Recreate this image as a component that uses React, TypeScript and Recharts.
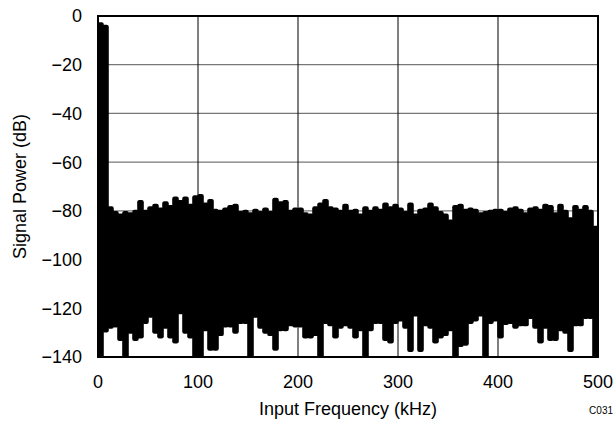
import { BarChart, Bar, XAxis, YAxis, CartesianGrid, ReferenceArea, Label } from 'recharts';

// FFT output, read per 5 kHz bin: peak (top of trace) and floor (bottom of trace) in dB
const BIN_KHZ = 5;

const peakDb = [
  -3, -4, -78.5, -80.5, -81.5, -80.5, -81, -80, -76, -80,
  -78.5, -77.5, -79, -76.5, -78, -74.5, -76, -74.5, -77.5, -74,
  -73.5, -77, -75.5, -79.5, -80, -79, -78, -77.5, -80.5, -80,
  -81, -79.5, -80.5, -79, -80.5, -75, -76.5, -76, -80, -79,
  -79, -81, -81.5, -78.5, -77, -75.5, -78.5, -79, -80, -77.5,
  -80, -79.5, -81.5, -78.5, -80, -78.5, -79.5, -77, -78.5, -77.5,
  -79, -80.5, -77, -81.5, -79.5, -79, -77, -78.5, -80.5, -81.5,
  -84, -78, -77.5, -79.5, -79, -79.5, -81, -80.5, -80, -79.5,
  -79.5, -80.5, -79, -78.5, -79.5, -81, -79, -78.5, -79.5, -77.5,
  -78, -81, -77.5, -80, -83, -78, -79.5, -78, -80, -86.5,
];

const floorDb = [
  -140, -129.5, -128, -127.5, -133, -140, -130, -133, -132, -126,
  -123.5, -130, -132, -128, -132, -134, -122, -130, -132, -140,
  -140, -129, -137, -137, -131, -127.5, -127.5, -130, -126, -126,
  -140, -123.5, -128, -130, -131, -137, -129, -129, -127, -127.5,
  -127.5, -132, -132, -131, -140, -126, -127, -132, -128, -127,
  -128, -132, -129, -140, -129, -126, -126, -133, -134, -126,
  -125, -128, -137.5, -123, -137.5, -127, -128, -134, -132, -131,
  -129, -140, -135.5, -135, -126, -125, -123, -140, -126, -125,
  -132, -126.5, -126, -128, -127, -127, -124, -128, -134, -128,
  -133, -133, -129, -130, -137.5, -127, -127, -124, -124, -140,
];

const freqTicks = [0, 100, 200, 300, 400, 500];
const powerTicks = [-140, -120, -100, -80, -60, -40, -20, 0];

const data = peakDb.map((top, i) => ({
  freq: (i + 0.5) * BIN_KHZ,
  range: [floorDb[i], top],
}));

const FONT = '"Liberation Sans", Arial, Helvetica, sans-serif';

const formatDb = (v: number) => (v < 0 ? `\u2212${-v}` : `${v}`);

// thick trace look: widen each bin slightly so neighbours merge, round the ends
const TraceBin = (props: any) => {
  const { x, y, width, height } = props;
  if (height == null || isNaN(height)) return null;
  return <rect x={x - 0.8} y={y - 1} width={width + 1.6} height={height + 2} rx={2.2} ry={2.2} fill="#000" />;
};

export default function App() {
  return (
    <div style={{ position: 'absolute', left: 0, top: 0, width: 615, height: 422, background: '#fff', fontFamily: FONT }}>
      <BarChart
        width={615}
        height={422}
        data={data}
        barCategoryGap={0}
        barGap={0}
        margin={{ top: 16, right: 17, bottom: 35, left: 0 }}
      >
        <CartesianGrid horizontal={true} vertical={false} stroke="#777" strokeWidth={1.2} />
        <CartesianGrid horizontal={false} vertical={true} stroke="#000" strokeWidth={1} />
        <XAxis
          type="number"
          dataKey="freq"
          domain={[0, 500]}
          ticks={freqTicks}
          allowDataOverflow
          height={30}
          axisLine={false}
          tickLine={false}
          tickSize={0}
          tickMargin={18}
          tick={{ fill: '#000', fontSize: 18, fontFamily: FONT }}
        >
          <Label value="Input Frequency (kHz)" position="bottom" offset={15} fill="#000" fontSize={18} fontFamily={FONT} />
        </XAxis>
        <YAxis
          type="number"
          domain={[-140, 0]}
          ticks={powerTicks}
          allowDataOverflow
          width={98}
          axisLine={false}
          tickLine={false}
          tickSize={0}
          tickMargin={16}
          tickFormatter={formatDb}
          tick={{ fill: '#000', fontSize: 18, fontFamily: FONT }}
        >
          <Label
            value="Signal Power (dB)"
            position="insideLeft"
            offset={20}
            angle={-90}
            fill="#000"
            fontSize={18}
            fontFamily={FONT}
            style={{ textAnchor: 'middle' }}
          />
        </YAxis>
        <ReferenceArea x1={0} x2={500} y1={-140} y2={0} fill="none" stroke="#000" strokeWidth={2} ifOverflow="visible" />
        <Bar dataKey="range" fill="#000" shape={TraceBin} isAnimationActive={false} />
      </BarChart>
      <div
        style={{
          position: 'absolute',
          left: 0,
          top: 406,
          width: 613,
          textAlign: 'right',
          fontSize: 10,
          lineHeight: '10px',
          color: '#000',
          fontFamily: FONT,
        }}
      >
        C031
      </div>
    </div>
  );
}
